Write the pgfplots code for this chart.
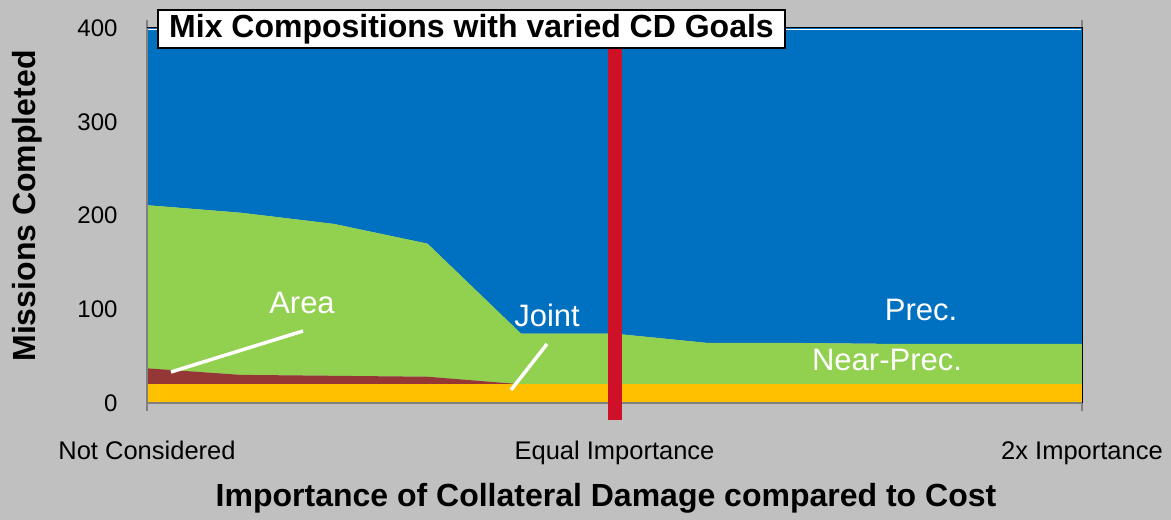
\documentclass[border=0pt]{standalone}
\usepackage{fontspec}
\setmainfont{Liberation Sans}
\usepackage{pgfplots}
\pgfplotsset{compat=1.18}
\usepackage{pgfplotstable}
\definecolor{bggray}{RGB}{192,192,192}
\definecolor{axisgray}{RGB}{128,128,128}
\definecolor{cblue}{RGB}{0,112,192}
\definecolor{cgreen}{RGB}{146,208,80}
\definecolor{cyellow}{RGB}{255,192,0}
\definecolor{cred}{RGB}{149,55,53}
\definecolor{redline}{RGB}{206,17,38}

\pgfplotstableread{
x yel red grn blu
0 20 17 174 189
1 20 10 173 197
2 20 9 162 209
3 20 8 142 230
4 20 0 54 326
5 20 0 54 326
6 20 0 44 336
7 20 0 44 336
8 20 0 43 337
9 20 0 43 337
10 20 0 43 337
}\mixdata

\begin{document}
\begin{tikzpicture}
\useasboundingbox (0,0) rectangle (1171bp,520bp);
\fill[bggray] (0,0) rectangle (1171bp,520bp);
\begin{axis}[
  at={(147bp,117bp)}, anchor=south west,
  scale only axis, width=935bp, height=375bp,
  xmin=0, xmax=10, ymin=0, ymax=400,
  stack plots=y, clip=false,
  axis line style={draw=none},
  xtick={0,5,10},
  xticklabels={Not Considered, Equal Importance, 2x Importance},
  ytick={0,100,200,300,400},
  yticklabel style={font=\fontsize{24bp}{28bp}\selectfont, xshift=-18bp},
  xticklabel style={font=\fontsize{25.5bp}{30bp}\selectfont, yshift=-27bp},
  /pgf/number format/assume math mode=true,
  ytick style={draw=none},
  xtick style={draw=axisgray, line width=2bp},
  major tick length=8bp, tick align=outside,
]
\addplot[fill=cyellow, draw=none] table[x=x, y=yel] {\mixdata} \closedcycle;
\addplot[fill=cred, draw=none] table[x=x, y=red] {\mixdata} \closedcycle;
\addplot[fill=cgreen, draw=none] table[x=x, y=grn] {\mixdata} \closedcycle;
\addplot[fill=cblue, draw=none] table[x=x, y=blu] {\mixdata} \closedcycle;
\coordinate (TL) at (rel axis cs:0,1);
\coordinate (TR) at (rel axis cs:1,1);
\coordinate (BL) at (rel axis cs:0,0);
\coordinate (BR) at (rel axis cs:1,0);
\coordinate (Rtop) at (axis cs:5,400);
\coordinate (Rbot) at (axis cs:5,-18);
\end{axis}
% frame and axis lines
\draw[black, line width=1bp] (TL) -- (TR) -- (BR);
\draw[white, line width=1.2bp] ([yshift=-1.5bp]TL) -- ([yshift=-1.5bp,xshift=-1bp]TR);
\draw[axisgray, line width=2bp] (TL) -- (BL) -- (BR);
% reference line
\draw[redline, line width=14bp] (Rtop) -- (Rbot);
% title box
\node[draw=black, line width=2bp, fill=white, minimum width=627bp, minimum height=38bp, inner sep=0pt,
  font=\fontsize{32bp}{36bp}\selectfont\bfseries] at (471.5bp,491bp) {Mix Compositions with varied CD Goals};
% axis titles
\node[rotate=90, font=\fontsize{32bp}{36bp}\selectfont\bfseries] at (27bp,314bp) {Missions Completed};
\node[font=\fontsize{32bp}{36bp}\selectfont\bfseries] at (606bp,22bp) {Importance of Collateral Damage compared to Cost};
% white annotations
\begin{scope}[font=\fontsize{31bp}{36bp}\selectfont, text=white]
\node at (302bp,217bp) {Area};
\node at (547bp,205bp) {Joint};
\node at (921bp,210bp) {Prec.};
\node at (887bp,160bp) {Near-Prec.};
\end{scope}
\draw[white, line width=3.5bp] (171bp,148bp) -- (303bp,189bp);
\draw[white, line width=3.5bp] (511bp,130bp) -- (547bp,176bp);
\end{tikzpicture}
\end{document}
